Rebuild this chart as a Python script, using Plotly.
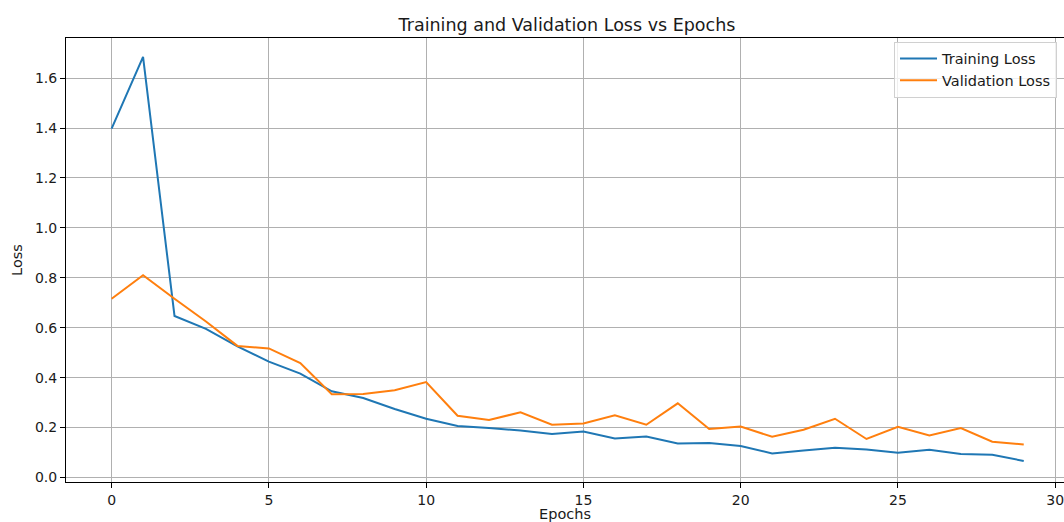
import plotly.graph_objects as go

epochs = list(range(30))
training_loss = [1.398, 1.685, 0.647, 0.595, 0.525, 0.464, 0.416, 0.345, 0.318, 0.274,
                 0.235, 0.206, 0.198, 0.188, 0.174, 0.184, 0.156, 0.164, 0.136, 0.138,
                 0.126, 0.096, 0.108, 0.119, 0.112, 0.099, 0.111, 0.094, 0.091, 0.066]
validation_loss = [0.716, 0.810, 0.716, 0.625, 0.527, 0.517, 0.458, 0.333, 0.334, 0.349,
                   0.382, 0.247, 0.230, 0.261, 0.211, 0.216, 0.249, 0.211, 0.297, 0.194,
                   0.204, 0.163, 0.191, 0.235, 0.154, 0.203, 0.168, 0.198, 0.143, 0.132]
y_ticks = [0.0, 0.2, 0.4, 0.6, 0.8, 1.0, 1.2, 1.4, 1.6]
x_ticks = [0, 5, 10, 15, 20, 25, 30]

FONT = "DejaVu Sans"
TXT = "#1a1a1a"

fig = go.Figure()
fig.add_trace(go.Scatter(x=epochs, y=training_loss, mode="lines", name="Training Loss",
                         line=dict(color="#1f77b4", width=2)))
fig.add_trace(go.Scatter(x=epochs, y=validation_loss, mode="lines", name="Validation Loss",
                         line=dict(color="#ff7f0e", width=2)))

axis_common = dict(
    showgrid=True, gridcolor="#b0b0b0", gridwidth=1,
    showline=True, linecolor="black", linewidth=1,
    ticks="outside", ticklen=5, tickcolor="black", tickwidth=1,
    zeroline=False, automargin=False, ticklabeloverflow="allow",
    tickfont=dict(family=FONT, size=14, color=TXT),
)

fig.update_layout(
    width=1064, height=522, autosize=False,
    margin=dict(l=66, r=0, t=38, b=40, autoexpand=False),
    paper_bgcolor="white", plot_bgcolor="white",
    font=dict(family=FONT, color=TXT),
    title=dict(text="Training and Validation Loss vs Epochs", x=0.502, xref="paper",
               xanchor="center", y=0.953, yref="container", yanchor="middle",
               font=dict(family=FONT, size=17.5, color=TXT)),
    xaxis=dict(range=[-1.45, 30.28], tickvals=x_ticks, mirror=True,
               title=dict(text="Epochs", font=dict(family=FONT, size=14.5), standoff=3),
               **axis_common),
    yaxis=dict(range=[-0.0184, 1.761], tickvals=y_ticks, tickformat=".1f", mirror=False,
               title=dict(text="Loss", font=dict(family=FONT, size=14.5), standoff=8),
               **axis_common),
    legend=dict(x=0.993, y=0.992, xanchor="right", yanchor="top",
                bgcolor="rgba(255,255,255,0.8)", bordercolor="#d0d0d0", borderwidth=1,
                itemwidth=37, tracegroupgap=0,
                font=dict(family=FONT, size=14.5, color=TXT)),
    showlegend=True,
)

fig.write_html("out.html", config={"displayModeBar": False},
               post_script="document.body.style.margin='0';document.body.style.overflow='hidden';")
